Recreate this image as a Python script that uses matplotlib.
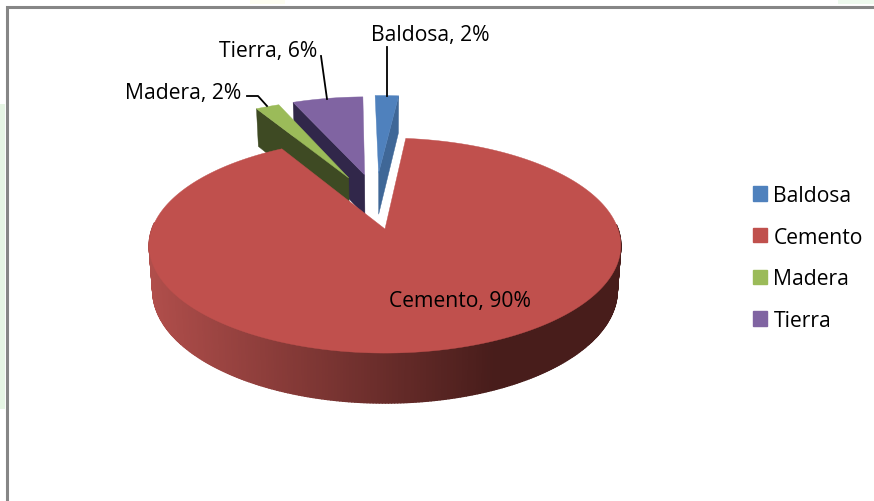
import matplotlib
matplotlib.use('Agg')
import matplotlib.pyplot as plt
import numpy as np
from matplotlib.collections import PolyCollection
from matplotlib.patches import Patch

# data
categorias = ['Baldosa', 'Cemento', 'Madera', 'Tierra']
valores = [2, 90, 2, 6]

colores = ['#4F81BD', '#C0504D', '#9BBB59', '#8064A2']
colores_lado = ['#3F6797', '#7A302E', '#3E4A23', '#31274A']

# how far each slice is pulled out of the pie, in pie units (x, y)
separacion = [(-0.03, 0.58), (0.0, 0.0), (-0.168, 0.525), (-0.095, 0.56)]
inicio = -1.3  # degrees clockwise from the back of the pie

# projection of the tilted pie onto the 874x502 picture
cx, cy = 385, 230
rx, ry = 233, 105
k = 0.1536
alto = 44
k_alto = 0.12


def proyectar(x, y, z=0):
    s = 1 / (1 + k * y)
    px = cx + rx * x * s * (1 - 0.015 * z)
    py = cy - ry * y * s + alto * z / (1 + k_alto * y)
    return px, py


# slice angles come from the values
total = sum(valores)
fin = inicio + np.cumsum(valores) / total * 360
ini = fin - np.array(valores) / total * 360

fig = plt.figure(figsize=(8.74, 5.02), dpi=100)
ax = fig.add_axes([0, 0, 1, 1])
ax.set_xlim(0, 874)
ax.set_ylim(502, 0)
ax.axis('off')

# pale background bits and the grey frame
ax.fill([0, 5, 5, 0], [105, 105, 410, 410], color='#E6F5E4', lw=0)
ax.fill([838, 874, 874, 838], [0, 0, 5, 5], color='#EEFAEE', lw=0)
ax.fill([250, 285, 285, 250], [0, 0, 5, 5], color='#FDFDF0', lw=0)
ax.plot([6.5, 6.5, 874], [502, 7.5, 7.5], color='#868686', lw=2.2, solid_joinstyle='miter')


def dibujar_cuna(i, cara):
    a = np.radians(np.linspace(ini[i], fin[i], 200))
    ox, oy = separacion[i]
    xs = ox + np.sin(a)
    ys = oy + np.cos(a)
    # radial cut face that can be seen from the front
    j = 0 if cara == 'izq' else -1
    cx0, cy0 = proyectar(ox, oy)
    cx1, cy1 = proyectar(xs[j], ys[j])
    cx2, cy2 = proyectar(xs[j], ys[j], 1)
    cx3, cy3 = proyectar(ox, oy, 1)
    ax.fill([cx0, cx1, cx2, cx3], [cy0, cy1, cy2, cy3], color=colores_lado[i], lw=0.3)
    px, py = proyectar(np.r_[ox, xs], np.r_[oy, ys])
    ax.fill(px, py, color=colores[i], lw=0.3)


def dibujar_cemento(i):
    a = np.radians(np.linspace(ini[i], fin[i], 500))
    xs = np.sin(a)
    ys = np.cos(a)
    x_arr, y_arr = proyectar(xs, ys)
    x_aba, y_aba = proyectar(xs, ys, 1)
    # rim, shaded from left to right, only the front part shows
    c0 = np.array([176, 78, 75]) / 255
    c1 = np.array([72, 29, 27]) / 255
    polis = []
    tonos = []
    for n in range(len(a) - 1):
        if ys[n] > 0.05:
            continue
        polis.append([(x_arr[n], y_arr[n]), (x_arr[n + 1], y_arr[n + 1]),
                      (x_aba[n + 1], y_aba[n + 1]), (x_aba[n], y_aba[n])])
        t = np.clip((x_arr[n] - 150) / 345, 0, 1)
        tonos.append(c0 + (c1 - c0) * t)
    ax.add_collection(PolyCollection(polis, facecolors=tonos, edgecolors=tonos, linewidths=1.0))
    px, py = proyectar(np.r_[0, xs], np.r_[0, ys])
    ax.fill(px, py, color=colores[i], lw=0.3)


# back slices first, Cemento goes over them
dibujar_cuna(3, 'izq')
dibujar_cuna(2, 'izq')
dibujar_cuna(0, 'der')
dibujar_cemento(1)

# data labels with their leader lines
fuente = 'Open Sans'
tam = 15.2
ax.text(430, 36, f'{categorias[0]}, {valores[0]}%', ha='center', va='center', family=fuente, fontsize=tam)
ax.text(268, 52, f'{categorias[3]}, {valores[3]}%', ha='center', va='center', family=fuente, fontsize=tam)
ax.text(183.5, 93, f'{categorias[2]}, {valores[2]}%', ha='center', va='center', family=fuente, fontsize=tam)
ax.text(460, 302, f'{categorias[1]}, {valores[1]}%', ha='center', va='center', family=fuente, fontsize=tam)
ax.plot([387, 387], [48, 97], color='black', lw=1.3)
ax.plot([321, 327], [57, 100], color='black', lw=1.3)
ax.plot([247, 258, 267], [97, 97, 107], color='black', lw=1.3)

# legend
manijas = [Patch(color=c) for c in colores]
ax.legend(manijas, categorias, loc='upper left', bbox_to_anchor=(753 / 874, 1 - 186 / 502),
          frameon=False, prop={'family': fuente, 'size': tam}, handlelength=0.67, handleheight=0.67,
          handletextpad=0.3, labelspacing=0.98, borderpad=0, borderaxespad=0)

plt.savefig('out.png', dpi=100)
